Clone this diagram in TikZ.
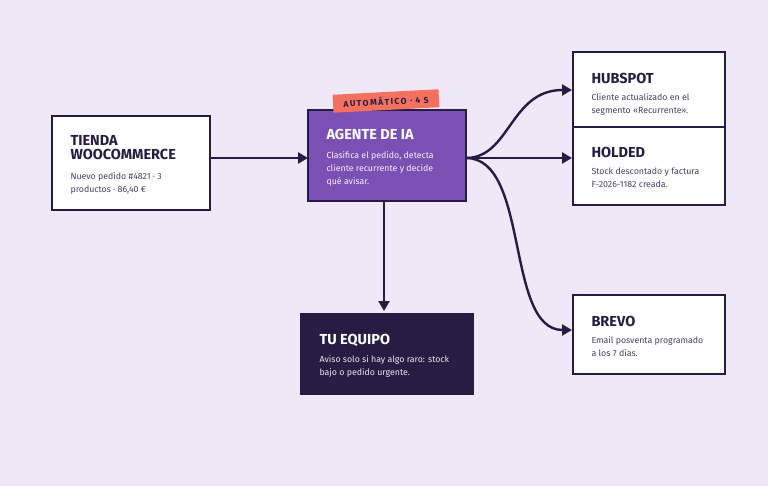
\documentclass[tikz,border=0pt]{standalone}
\usepackage{fontspec}
\setmainfont{Fira Sans}
\usetikzlibrary{arrows.meta}
\definecolor{bgc}{HTML}{EEE8F7}
\definecolor{ink}{HTML}{261D44}
\definecolor{agent}{HTML}{7B50B5}
\definecolor{tagc}{HTML}{F4705F}
\tikzset{
  box/.style={draw=ink, line width=2.4pt, fill=white, inner sep=0pt},
  ttl/.style={anchor=north west, font=\bfseries\fontsize{14.5}{14}\selectfont, text=ink},
  txt/.style={anchor=north west, font=\fontsize{8.8}{13}\selectfont, text=ink!85, align=left},
  con/.style={draw=ink, line width=2.4pt, -{Triangle[length=10pt,width=11pt]}}
}
\begin{document}
\begin{tikzpicture}[x=1pt,y=-1pt]
  \fill[bgc] (0,0) rectangle (768,486);
  \useasboundingbox (0,0) rectangle (768,486);
  % boxes
  \draw[box] (52,116) rectangle (210,210);
  \coordinate (tienda) at (210,158);
  \node[ttl, align=left, font=\bfseries\fontsize{14.5}{14}\selectfont] (tt) at (67,132) {TIENDA\\WOOCOMMERCE};
  \node[txt] (td) at (67,169) {Nuevo pedido \#4821 · 3\\productos · 86,40 €};
  \draw[box, fill=agent] (308,110) rectangle (466,201);
  \coordinate (agW) at (308,158);
  \coordinate (agE) at (466,158);
  \coordinate (agS) at (384,201);
  \node[ttl, text=white] (at) at (323,126) {AGENTE DE IA};
  \node[txt, text=white!92!agent] (ad) at (323,148) {Clasifica el pedido, detecta\\cliente recurrente y decide\\qué avisar.};
  \node[fill=tagc, rotate=3, minimum width=106pt, minimum height=18pt, font=\bfseries\fontsize{8.5}{9}\selectfont, text=ink] (tag) at (386,101) {A\,U\,T\,O\,M\,Á\,T\,I\,C\,O \,·\, 4 \,S};
  \draw[box] (573,52) rectangle (725,127);
  \node[ttl] (ht) at (588,70) {HUBSPOT};
  \node[txt] (hd) at (588,90) {Cliente actualizado en el\\segmento «Recurrente».};
  \draw[box] (573,127) rectangle (725,205);
  \node[ttl] (ot) at (588,144) {HOLDED};
  \node[txt] (od) at (588,164) {Stock descontado y factura\\F-2026-1182 creada.};
  \draw[box] (573,295) rectangle (725,374);
  \node[ttl] (bt) at (588,313) {BREVO};
  \node[txt] (bd) at (588,333) {Email posventa programado\\a los 7 días.};
  \draw[box, fill=ink] (301,314) rectangle (473,394);
  \node[ttl, text=white] (et) at (316,331) {TU EQUIPO};
  \node[txt, text=white!90!ink] (ed) at (316,352) {Aviso solo si hay algo raro: stock\\bajo o pedido urgente.};
  \coordinate (hubW) at (572,90);
  \coordinate (holW) at (572,158);
  \coordinate (brvW) at (572,330);
  \coordinate (eqN) at (384,311);
  % connectors
  \draw[con] (tienda) -- (agW);
  \draw[con] (agS) -- (eqN);
  \draw[con] (agE) .. controls (510,158) and (510,90) .. (hubW);
  \draw[con] (agE) -- (holW);
  \draw[con] (agE) .. controls (530,158) and (505,330) .. (brvW);
\end{tikzpicture}
\end{document}
